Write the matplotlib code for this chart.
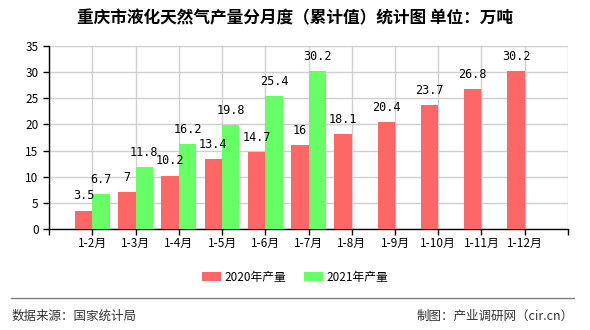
import numpy as np
import matplotlib.pyplot as plt

plt.rcParams["font.family"] = ["Noto Sans CJK SC", "DejaVu Sans"]

months = ["1-2月", "1-3月", "1-4月", "1-5月", "1-6月", "1-7月",
          "1-8月", "1-9月", "1-10月", "1-11月", "1-12月"]
prod_2020 = [3.5, 7, 10.2, 13.4, 14.7, 16, 18.1, 20.4, 23.7, 26.8, 30.2]
prod_2021 = [6.7, 11.8, 16.2, 19.8, 25.4, 30.2]

red = "#ff6666"
green = "#66ff66"

fig = plt.figure(figsize=(5.9, 3.3), dpi=100)
ax = fig.add_axes([0.0831, 0.3061, 0.8796, 0.5545])

x20 = np.arange(1, len(prod_2020) + 1)
x21 = np.arange(1, len(prod_2021) + 1)
w = 0.4
ax.bar(x20 - w / 2, prod_2020, width=w, color=red, label="2020年产量", zorder=3)
ax.bar(x21 + w / 2, prod_2021, width=w, color=green, label="2021年产量", zorder=3)

# value labels
for xi, v in zip(x20, prod_2020):
    ax.annotate(f"{v:g}", (xi - w / 2, v), xytext=(0, 6), textcoords="offset points",
                ha="center", va="bottom", fontsize=8.5, family="DejaVu Sans Mono")
for xi, v in zip(x21, prod_2021):
    ax.annotate(f"{v:g}", (xi + w / 2, v), xytext=(0, 6), textcoords="offset points",
                ha="center", va="bottom", fontsize=8.5, family="DejaVu Sans Mono")

ax.set_xlim(0, 12)
ax.set_ylim(0, 35)
ax.set_xticks(np.arange(0, 13))
ax.set_xticklabels([""] + months + [""], fontsize=8.5)
ax.set_yticks(np.arange(0, 36, 5))
ax.tick_params(axis="y", labelsize=8.5, length=4, width=1)
ax.tick_params(axis="x", length=4, width=1, pad=2)
ax.grid(True, color="#d0d0d0", linewidth=1, zorder=0)
for s in ["top", "right"]:
    ax.spines[s].set_visible(False)
for s in ["left", "bottom"]:
    ax.spines[s].set_linewidth(1)

fig.text(0.5, 0.945, "重庆市液化天然气产量分月度（累计值）统计图 单位：万吨",
         ha="center", va="center", fontsize=12, fontweight="bold")

ax.legend(loc="center", ncol=2, frameon=False, fontsize=8.5, handlelength=1.6,
          handleheight=0.8, columnspacing=1.5, handletextpad=0.3,
          bbox_to_anchor=(0.5, 1 - 277 / 330), bbox_transform=fig.transFigure)

fig.add_artist(plt.Line2D([0.018, 0.973], [1 - 298 / 330] * 2, color="#808080", linewidth=1))
fig.text(0.02, 1 - 316 / 330, "数据来源：国家统计局", ha="left", va="center", fontsize=9, color="#333333")
fig.text(0.973, 1 - 316 / 330, "制图：产业调研网（cir.cn）", ha="right", va="center", fontsize=9, color="#333333")

fig.savefig("out.png", dpi=100)
